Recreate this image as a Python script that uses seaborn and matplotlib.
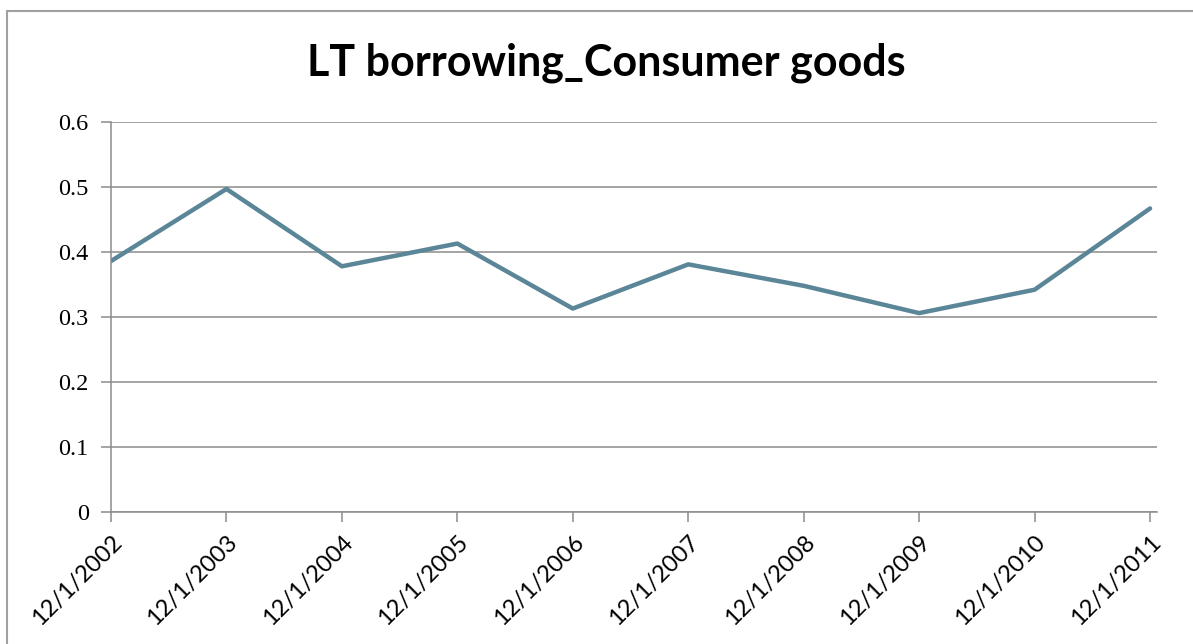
import matplotlib
matplotlib.use("Agg")
import matplotlib.pyplot as plt
import seaborn as sns
import pandas as pd
from matplotlib.lines import Line2D

dates = ["12/1/2002", "12/1/2003", "12/1/2004", "12/1/2005", "12/1/2006",
         "12/1/2007", "12/1/2008", "12/1/2009", "12/1/2010", "12/1/2011"]
values = [0.386, 0.497, 0.378, 0.413, 0.313, 0.381, 0.348, 0.306, 0.342, 0.467]
yticks = [0, 0.1, 0.2, 0.3, 0.4, 0.5, 0.6]
title = "LT borrowing_Consumer goods"

sns.set_theme(style="white")
W, H = 1193, 644
fig = plt.figure(figsize=(W / 100, H / 100), dpi=100)
ax = fig.add_axes([111 / W, 1 - 512 / H, (1157 - 111) / W, (512 - 122) / H])

df = pd.DataFrame({"pos": range(len(dates)), "value": values})
sns.lineplot(data=df, x="pos", y="value", ax=ax, color="#5A8698", linewidth=3.2)

ax.set_xlim(0, 9.06)
ax.set_ylim(0, 0.6)
ax.set_yticks(yticks)
ax.set_yticklabels([f"{v:g}" for v in yticks], fontfamily="Liberation Serif",
                   fontsize=17.5, color="black")
ax.set_xticks(range(len(dates)))
ax.set_xticklabels(dates, rotation=45, ha="right", rotation_mode="anchor",
                   fontfamily="Lato", fontsize=17, color="black")
ax.set_xlabel("")
ax.set_ylabel("")
ax.grid(axis="y", color="#8c8c8c", linewidth=1.1)
ax.grid(axis="x", visible=False)
for s in ["top", "right"]:
    ax.spines[s].set_visible(False)
for s in ["left", "bottom"]:
    ax.spines[s].set_color("#8c8c8c")
    ax.spines[s].set_linewidth(1.1)
ax.tick_params(axis="both", which="major", direction="out", length=7, width=1.1,
               color="#8c8c8c", left=True, bottom=True)
ax.tick_params(axis="y", pad=9)
ax.tick_params(axis="x", pad=7)

fig.text(606 / W, 1 - 63 / H, title, ha="center", va="center", color="black",
         fontfamily="Lato", fontweight="bold", fontsize=31)

# outer chart border
fig.add_artist(Line2D([7.5 / W, 7.5 / W], [0, 1 - 11 / H], transform=fig.transFigure,
                      color="#a0a0a0", linewidth=1.5))
fig.add_artist(Line2D([7 / W, 1], [1 - 11 / H, 1 - 11 / H], transform=fig.transFigure,
                      color="#a0a0a0", linewidth=1.5))

fig.savefig("out.png", dpi=100)
